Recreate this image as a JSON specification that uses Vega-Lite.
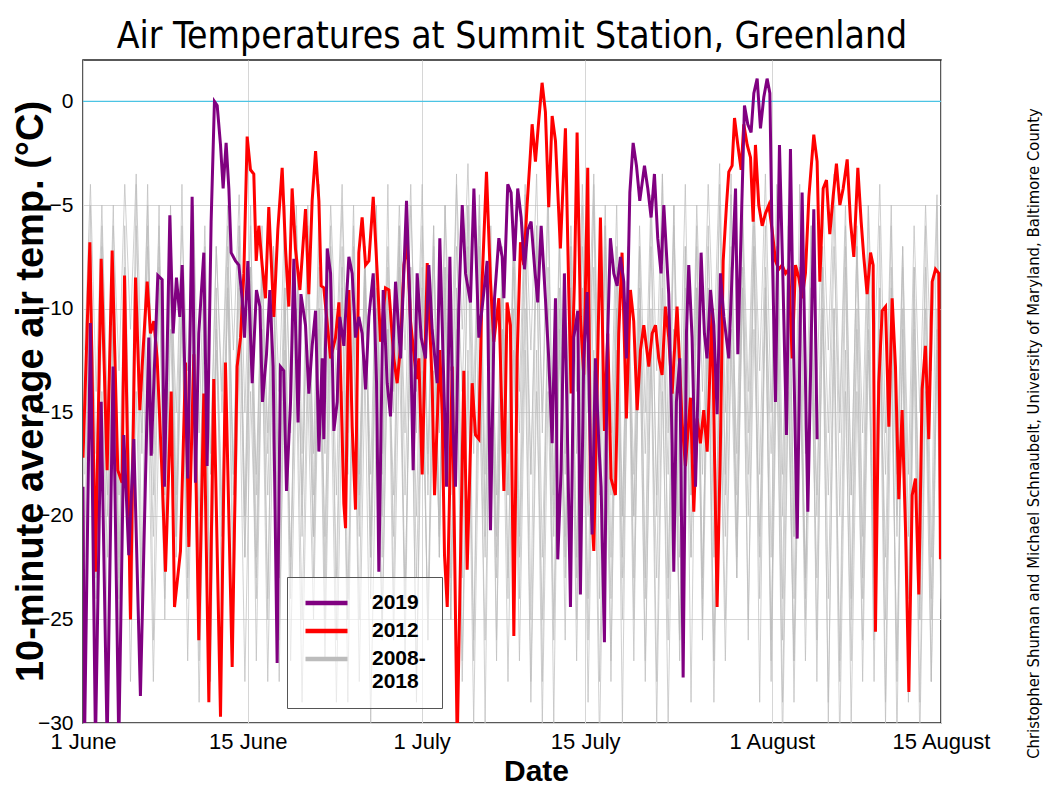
{
"$schema":"https://vega.github.io/schema/vega-lite/v6.json",
"width":858,"height":663,
"autosize":{"type":"none"},
"padding":{"left":83,"top":60,"right":114,"bottom":77},
"background":"white",
"title":{"text":"Air Temperatures at Summit Station, Greenland","font":"DejaVu Sans Condensed, sans-serif","fontSize":37,"fontWeight":"normal","color":"black","anchor":"middle","offset":4},
"datasets":{
"gray":[
{"d":0.15,"a":-18,"b":-25,"c":-22,"e":-15,"f":-28,"h":-12},{"d":0.65,"a":-7,"b":-12,"c":-5,"e":-8,"f":-13,"h":-4},
{"d":1.15,"a":-20,"b":-27,"c":-24,"e":-17,"f":-23,"h":-14},{"d":1.65,"a":-6,"b":-14,"c":-7,"e":-9,"f":-10,"h":-5},
{"d":2.15,"a":-15,"b":-22,"c":-27,"e":-20,"f":-19,"h":-16},{"d":2.65,"a":-5,"b":-10,"c":-9,"e":-11,"f":-8,"h":-6},
{"d":3.15,"a":-22,"b":-19,"c":-25,"e":-23,"f":-24,"h":-13},{"d":3.65,"a":-8,"b":-8,"c":-6,"e":-12,"f":-11,"h":-4},
{"d":4.15,"a":-24,"b":-21,"c":-20,"e":-19,"f":-28,"h":-11},{"d":4.65,"a":-6,"b":-9,"c":-4,"e":-10,"f":-14,"h":-3.5},
{"d":5.15,"a":-17,"b":-26,"c":-23,"e":-16,"f":-25,"h":-14},{"d":5.65,"a":-4,"b":-13,"c":-6,"e":-7,"f":-12,"h":-5},
{"d":6.15,"a":-19,"b":-28,"c":-26,"e":-14,"f":-21,"h":-17},{"d":6.65,"a":-5,"b":-15,"c":-8,"e":-6,"f":-9,"h":-7},
{"d":7.15,"a":-25,"b":-24,"c":-22,"e":-18,"f":-18,"h":-19},{"d":7.65,"a":-9,"b":-11,"c":-5,"e":-8,"f":-7,"h":-8},
{"d":8.15,"a":-21,"b":-20,"c":-19,"e":-21,"f":-22,"h":-15},{"d":8.65,"a":-8,"b":-9,"c":-4,"e":-10,"f":-10,"h":-6},
{"d":9.15,"a":-16,"b":-23,"c":-21,"e":-24,"f":-27,"h":-13},{"d":9.65,"a":-6,"b":-10,"c":-5,"e":-12,"f":-13,"h":-5},
{"d":10.15,"a":-23,"b":-27,"c":-25,"e":-20,"f":-29,"h":-16},{"d":10.65,"a":-9,"b":-13,"c":-7,"e":-9,"f":-15,"h":-6},
{"d":11.15,"a":-26,"b":-25,"c":-28,"e":-17,"f":-24,"h":-18},{"d":11.65,"a":-10,"b":-12,"c":-9,"e":-7,"f":-11,"h":-7},
{"d":12.15,"a":-20,"b":-21,"c":-26,"e":-15,"f":-20,"h":-14},{"d":12.65,"a":-7,"b":-9,"c":-8,"e":-6,"f":-9,"h":-5},
{"d":13.15,"a":-18,"b":-18,"c":-23,"e":-19,"f":-25,"h":-12},{"d":13.65,"a":-6,"b":-7,"c":-6,"e":-9,"f":-12,"h":-4.5},
{"d":14.15,"a":-22,"b":-20,"c":-20,"e":-22,"f":-28,"h":-15},{"d":14.65,"a":-8,"b":-8,"c":-5,"e":-11,"f":-14,"h":-6},
{"d":15.15,"a":-27,"b":-24,"c":-22,"e":-18,"f":-23,"h":-19},{"d":15.65,"a":-11,"b":-11,"c":-6,"e":-8,"f":-10,"h":-8},
{"d":16.15,"a":-24,"b":-28,"c":-25,"e":-16,"f":-19,"h":-17},{"d":16.65,"a":-9,"b":-14,"c":-7,"e":-7,"f":-8,"h":-7},
{"d":17.15,"a":-19,"b":-26,"c":-28,"e":-20,"f":-23,"h":-14},{"d":17.65,"a":-7,"b":-12,"c":-9,"e":-9,"f":-10,"h":-5},
{"d":18.15,"a":-15,"b":-22,"c":-24,"e":-23,"f":-27,"h":-16},{"d":18.65,"a":-5,"b":-10,"c":-6,"e":-11,"f":-13,"h":-6},
{"d":19.15,"a":-17,"b":-19,"c":-21,"e":-25,"f":-29,"h":-20},{"d":19.65,"a":-6,"b":-8,"c":-5,"e":-12,"f":-14,"h":-8},
{"d":20.15,"a":-21,"b":-23,"c":-19,"e":-21,"f":-25,"h":-17},{"d":20.65,"a":-8,"b":-10,"c":-4,"e":-10,"f":-11,"h":-6},
{"d":21.15,"a":-25,"b":-27,"c":-23,"e":-17,"f":-21,"h":-14},{"d":21.65,"a":-10,"b":-12,"c":-6,"e":-7,"f":-9,"h":-5},
{"d":22.15,"a":-23,"b":-29,"c":-26,"e":-14,"f":-19,"h":-12},{"d":22.65,"a":-9,"b":-14,"c":-8,"e":-5,"f":-7,"h":-4},
{"d":23.15,"a":-18,"b":-25,"c":-29,"e":-16,"f":-24,"h":-15},{"d":23.65,"a":-6,"b":-11,"c":-10,"e":-7,"f":-10,"h":-5},
{"d":24.15,"a":-20,"b":-21,"c":-25,"e":-19,"f":-28,"h":-18},{"d":24.65,"a":-7,"b":-9,"c":-7,"e":-8,"f":-13,"h":-7},
{"d":25.15,"a":-24,"b":-18,"c":-22,"e":-22,"f":-30,"h":-21},{"d":25.65,"a":-10,"b":-7,"c":-5,"e":-10,"f":-15,"h":-9},
{"d":26.15,"a":-26,"b":-22,"c":-20,"e":-18,"f":-25,"h":-17},{"d":26.65,"a":-11,"b":-9,"c":-4,"e":-8,"f":-11,"h":-7},
{"d":27.15,"a":-19,"b":-26,"c":-24,"e":-15,"f":-21,"h":-14},{"d":27.65,"a":-7,"b":-12,"c":-6,"e":-6,"f":-8,"h":-5},
{"d":28.15,"a":-16,"b":-24,"c":-27,"e":-19,"f":-24,"h":-12},{"d":28.65,"a":-5,"b":-10,"c":-8,"e":-8,"f":-10,"h":-4},
{"d":29.15,"a":-14,"b":-20,"c":-29,"e":-23,"f":-28,"h":-16},{"d":29.65,"a":-4,"b":-8,"c":-9,"e":-11,"f":-13,"h":-6},
{"d":30.15,"a":-18,"b":-17,"c":-26,"e":-26,"f":-25,"h":-19},{"d":30.65,"a":-6,"b":-6,"c":-7,"e":-13,"f":-11,"h":-7},
{"d":31.15,"a":-22,"b":-21,"c":-22,"e":-21,"f":-20,"h":-16},{"d":31.65,"a":-8,"b":-9,"c":-5,"e":-10,"f":-8,"h":-5},
{"d":32.15,"a":-25,"b":-25,"c":-19,"e":-17,"f":-23,"h":-13},{"d":32.65,"a":-9,"b":-11,"c":-3.5,"e":-7,"f":-10,"h":-4},
{"d":33.15,"a":-20,"b":-28,"c":-23,"e":-14,"f":-27,"h":-11},{"d":33.65,"a":-7,"b":-13,"c":-5,"e":-5,"f":-12,"h":-3},
{"d":34.15,"a":-17,"b":-26,"c":-27,"e":-16,"f":-30,"h":-14},{"d":34.65,"a":-5,"b":-12,"c":-7,"e":-6,"f":-14,"h":-4.5},
{"d":35.15,"a":-21,"b":-22,"c":-30,"e":-20,"f":-26,"h":-18},{"d":35.65,"a":-8,"b":-9,"c":-9,"e":-9,"f":-11,"h":-6},
{"d":36.15,"a":-26,"b":-19,"c":-27,"e":-23,"f":-22,"h":-21},{"d":36.65,"a":-11,"b":-7,"c":-8,"e":-11,"f":-9,"h":-8},
{"d":37.15,"a":-28,"b":-23,"c":-24,"e":-19,"f":-19,"h":-17},{"d":37.65,"a":-12,"b":-10,"c":-6,"e":-8,"f":-7,"h":-6},
{"d":38.15,"a":-22,"b":-27,"c":-21,"e":-16,"f":-24,"h":-14},{"d":38.65,"a":-8,"b":-12,"c":-4,"e":-6,"f":-10,"h":-4.5},
{"d":39.15,"a":-18,"b":-29,"c":-25,"e":-18,"f":-28,"h":-12},{"d":39.65,"a":-6,"b":-14,"c":-6,"e":-7,"f":-12,"h":-3.5},
{"d":40.15,"a":-15,"b":-25,"c":-28,"e":-22,"f":-30,"h":-16},{"d":40.65,"a":-4,"b":-11,"c":-8,"e":-10,"f":-14,"h":-5},
{"d":41.15,"a":-19,"b":-21,"c":-30,"e":-25,"f":-26,"h":-20},{"d":41.65,"a":-6,"b":-9,"c":-10,"e":-12,"f":-11,"h":-7},
{"d":42.15,"a":-23,"b":-18,"c":-26,"e":-21,"f":-22,"h":-17},{"d":42.65,"a":-9,"b":-7,"c":-7,"e":-9,"f":-9,"h":-6},
{"d":43.15,"a":-27,"b":-22,"c":-23,"e":-17,"f":-25,"h":-14},{"d":43.65,"a":-11,"b":-9,"c":-5,"e":-7,"f":-10,"h":-4},
{"d":44.15,"a":-24,"b":-26,"c":-20,"e":-15,"f":-29,"h":-12},{"d":44.65,"a":-8,"b":-12,"c":-4,"e":-5,"f":-13,"h":-3.5},
{"d":45.15,"a":-19,"b":-28,"c":-24,"e":-18,"f":-31,"h":-16},{"d":45.65,"a":-6,"b":-13,"c":-6,"e":-7,"f":-15,"h":-5},
{"d":46.15,"a":-16,"b":-24,"c":-28,"e":-22,"f":-27,"h":-19},{"d":46.65,"a":-5,"b":-10,"c":-8,"e":-10,"f":-12,"h":-7},
{"d":47.15,"a":-20,"b":-20,"c":-30,"e":-25,"f":-23,"h":-22},{"d":47.65,"a":-7,"b":-8,"c":-9,"e":-12,"f":-9,"h":-9},
{"d":48.15,"a":-25,"b":-23,"c":-27,"e":-20,"f":-20,"h":-18},{"d":48.65,"a":-10,"b":-10,"c":-7,"e":-9,"f":-7,"h":-6},
{"d":49.15,"a":-28,"b":-27,"c":-23,"e":-17,"f":-24,"h":-15},{"d":49.65,"a":-12,"b":-12,"c":-5,"e":-7,"f":-10,"h":-4.5},
{"d":50.15,"a":-23,"b":-30,"c":-20,"e":-19,"f":-28,"h":-13},{"d":50.65,"a":-9,"b":-14,"c":-3.5,"e":-8,"f":-12,"h":-3.5},
{"d":51.15,"a":-18,"b":-26,"c":-24,"e":-23,"f":-30,"h":-16},{"d":51.65,"a":-6,"b":-11,"c":-5,"e":-11,"f":-14,"h":-5},
{"d":52.15,"a":-15,"b":-22,"c":-27,"e":-26,"f":-26,"h":-20},{"d":52.65,"a":-4,"b":-9,"c":-7,"e":-12,"f":-11,"h":-7},
{"d":53.15,"a":-19,"b":-19,"c":-29,"e":-22,"f":-22,"h":-17},{"d":53.65,"a":-6,"b":-7,"c":-9,"e":-9,"f":-9,"h":-5},
{"d":54.15,"a":-24,"b":-23,"c":-25,"e":-18,"f":-26,"h":-14},{"d":54.65,"a":-9,"b":-10,"c":-6,"e":-7,"f":-11,"h":-4},
{"d":55.15,"a":-27,"b":-27,"c":-22,"e":-15,"f":-29,"h":-12},{"d":55.65,"a":-11,"b":-12,"c":-4,"e":-5,"f":-13,"h":-3},
{"d":56.15,"a":-21,"b":-25,"c":-19,"e":-18,"f":-27,"h":-15},{"d":56.65,"a":-8,"b":-11,"c":-3.5,"e":-7,"f":-12,"h":-4.5},
{"d":57.15,"a":-17,"b":-21,"c":-23,"e":-22,"f":-23,"h":-19},{"d":57.65,"a":-5,"b":-8,"c":-5,"e":-9,"f":-9,"h":-6},
{"d":58.15,"a":-14,"b":-18,"c":-26,"e":-25,"f":-20,"h":-16},{"d":58.65,"a":-4,"b":-7,"c":-6,"e":-11,"f":-7,"h":-5},
{"d":59.15,"a":-18,"b":-22,"c":-29,"e":-21,"f":-24,"h":-13},{"d":59.65,"a":-6,"b":-9,"c":-8,"e":-9,"f":-9,"h":-3.5},
{"d":60.15,"a":-22,"b":-26,"c":-27,"e":-17,"f":-28,"h":-15},{"d":60.65,"a":-8,"b":-11,"c":-7,"e":-7,"f":-12,"h":-4},
{"d":61.15,"a":-26,"b":-29,"c":-24,"e":-20,"f":-31,"h":-18},{"d":61.65,"a":-10,"b":-13,"c":-5,"e":-8,"f":-14,"h":-6},
{"d":62.15,"a":-29,"b":-27,"c":-21,"e":-24,"f":-27,"h":-21},{"d":62.65,"a":-13,"b":-12,"c":-4,"e":-10,"f":-11,"h":-8},
{"d":63.15,"a":-24,"b":-23,"c":-25,"e":-27,"f":-23,"h":-17},{"d":63.65,"a":-9,"b":-10,"c":-6,"e":-12,"f":-9,"h":-6},
{"d":64.15,"a":-19,"b":-20,"c":-28,"e":-23,"f":-26,"h":-14},{"d":64.65,"a":-7,"b":-8,"c":-8,"e":-10,"f":-10,"h":-4.5},
{"d":65.15,"a":-16,"b":-24,"c":-30,"e":-19,"f":-29,"h":-12},{"d":65.65,"a":-5,"b":-10,"c":-10,"e":-7,"f":-12,"h":-3.5},
{"d":66.15,"a":-20,"b":-28,"c":-27,"e":-16,"f":-31,"h":-15},{"d":66.65,"a":-7,"b":-12,"c":-8,"e":-6,"f":-14,"h":-5},
{"d":67.15,"a":-25,"b":-30,"c":-24,"e":-19,"f":-27,"h":-19},{"d":67.65,"a":-10,"b":-14,"c":-6,"e":-7,"f":-11,"h":-7},
{"d":68.15,"a":-28,"b":-26,"c":-21,"e":-23,"f":-24,"h":-16},{"d":68.65,"a":-12,"b":-11,"c":-5,"e":-9,"f":-9,"h":-5},
{"d":69.15,"a":-23,"b":-22,"c":-25,"e":-26,"f":-28,"h":-13},{"d":69.65,"a":-9,"b":-9,"c":-6,"e":-11,"f":-11,"h":-4},
{"d":70.15,"a":-18,"b":-25,"c":-29,"e":-22,"f":-30,"h":-16},{"d":70.65,"a":-6,"b":-10,"c":-8,"e":-9,"f":-13,"h":-5},
{"d":71.15,"a":-21,"b":-28,"c":-31,"e":-18,"f":-27,"h":-20},{"d":71.65,"a":-8,"b":-12,"c":-10,"e":-7,"f":-11,"h":-7},
{"d":72.15,"a":-26,"b":-24,"c":-28,"e":-21,"f":-29,"h":-18},{"d":72.65,"a":-11,"b":-10,"c":-8,"e":-8,"f":-12,"h":-6},
{"d":73.15,"a":-29,"b":-21,"c":-25,"e":-25,"f":-31,"h":-15},{"d":73.65,"a":-13,"b":-8,"c":-6,"e":-10,"f":-14,"h":-5},
{"d":74.15,"a":-24,"b":-25,"c":-22,"e":-28,"f":-28,"h":-13},{"d":74.65,"a":-10,"b":-11,"c":-5,"e":-12,"f":-12,"h":-4.5},
{"d":75,"a":-20,"b":-22,"c":-24,"e":-20,"f":-25,"h":-16}
],
"p19":[
{"d":0,"t":-18.6},{"d":0.13,"t":-31},{"d":0.65,"t":-10.7},{"d":1.09,"t":-31},{"d":1.59,"t":-14.5},{"d":2.11,"t":-31},{"d":2.63,"t":-12.8},{"d":3.13,"t":-31},{"d":3.57,"t":-16.1},{"d":4.0,"t":-21.9},{"d":4.44,"t":-16.3},{"d":5.02,"t":-28.7},{"d":5.75,"t":-11.4},{"d":5.96,"t":-17.1},{"d":6.54,"t":-8.4},{"d":6.92,"t":-8.6},{"d":7.12,"t":-18.6},{"d":7.59,"t":-5.5},{"d":7.88,"t":-11.2},{"d":8.17,"t":-8.5},{"d":8.46,"t":-10.4},{"d":8.67,"t":-7.9},{"d":8.87,"t":-12.4},{"d":9.16,"t":-18.2},{"d":9.54,"t":-4.6},{"d":9.83,"t":-18.4},{"d":10.12,"t":-11.2},{"d":10.56,"t":-7.3},{"d":10.85,"t":-17.6},{"d":11.2,"t":-5.8},{"d":11.49,"t":0},{"d":11.73,"t":-0.2},{"d":12.02,"t":-2.1},{"d":12.25,"t":-4.2},{"d":12.51,"t":-2.0},{"d":12.75,"t":-4.2},{"d":12.95,"t":-7.3},{"d":13.33,"t":-7.7},{"d":13.62,"t":-7.9},{"d":13.91,"t":-9.5},{"d":14.12,"t":-11.4},{"d":14.41,"t":-7.7},{"d":14.79,"t":-13.6},{"d":15.16,"t":-9.1},{"d":15.46,"t":-9.9},{"d":15.69,"t":-14.5},{"d":16.04,"t":-12.2},{"d":16.33,"t":-9.1},{"d":16.62,"t":-12.8},{"d":16.97,"t":-27.1},{"d":17.26,"t":-12.8},{"d":17.55,"t":-13.0},{"d":17.79,"t":-18.8},{"d":18.14,"t":-14.5},{"d":18.43,"t":-7.6},{"d":18.8,"t":-15.5},{"d":19.05,"t":-9.3},{"d":19.45,"t":-10.8},{"d":19.74,"t":-14.1},{"d":20.03,"t":-11.8},{"d":20.33,"t":-10.1},{"d":20.62,"t":-16.9},{"d":20.91,"t":-12.4},{"d":21.05,"t":-16.3},{"d":21.35,"t":-7.1},{"d":21.64,"t":-8.3},{"d":21.93,"t":-15.9},{"d":22.22,"t":-14.5},{"d":22.45,"t":-10.4},{"d":22.8,"t":-11.8},{"d":23.24,"t":-7.5},{"d":23.53,"t":-8.3},{"d":23.82,"t":-11.4},{"d":24.11,"t":-10.4},{"d":24.4,"t":-11.2},{"d":24.7,"t":-13.9},{"d":24.99,"t":-10.4},{"d":25.37,"t":-8.3},{"d":25.66,"t":-13.6},{"d":25.86,"t":-22.7},{"d":26.24,"t":-9.1},{"d":26.59,"t":-13.6},{"d":26.88,"t":-15.2},{"d":27.32,"t":-8.7},{"d":27.76,"t":-12.4},{"d":28.28,"t":-4.8},{"d":28.57,"t":-9.7},{"d":28.86,"t":-17.8},{"d":29.21,"t":-8.3},{"d":29.56,"t":-11.4},{"d":29.94,"t":-12.4},{"d":30.23,"t":-7.9},{"d":30.52,"t":-11.0},{"d":30.96,"t":-13.6},{"d":31.19,"t":-6.6},{"d":31.54,"t":-13.6},{"d":31.78,"t":-18.6},{"d":32.07,"t":-7.5},{"d":32.36,"t":-15.9},{"d":32.56,"t":-18.6},{"d":32.85,"t":-9.9},{"d":33.15,"t":-5.0},{"d":33.44,"t":-8.3},{"d":33.87,"t":-9.7},{"d":34.17,"t":-4.2},{"d":34.6,"t":-11.4},{"d":34.98,"t":-9.5},{"d":35.33,"t":-7.7},{"d":35.62,"t":-20.7},{"d":35.97,"t":-9.5},{"d":36.35,"t":-6.6},{"d":36.64,"t":-7.5},{"d":36.79,"t":-9.5},{"d":37.13,"t":-4.0},{"d":37.42,"t":-4.4},{"d":37.71,"t":-7.7},{"d":38.0,"t":-4.2},{"d":38.3,"t":-5.6},{"d":38.59,"t":-8.1},{"d":38.88,"t":-6.2},{"d":39.17,"t":-5.8},{"d":39.46,"t":-7.9},{"d":39.75,"t":-9.7},{"d":40.05,"t":-6.0},{"d":40.42,"t":-9.5},{"d":40.71,"t":-12.4},{"d":41.01,"t":-16.5},{"d":41.3,"t":-9.5},{"d":41.5,"t":-22.1},{"d":41.79,"t":-17.8},{"d":42.08,"t":-8.3},{"d":42.32,"t":-15.3},{"d":42.61,"t":-24.4},{"d":42.9,"t":-11.4},{"d":43.25,"t":-10.1},{"d":43.48,"t":-23.8},{"d":43.77,"t":-12.4},{"d":44.07,"t":-9.2},{"d":44.3,"t":-15.5},{"d":44.5,"t":-20.9},{"d":44.79,"t":-12.4},{"d":45.09,"t":-16.5},{"d":45.29,"t":-18.6},{"d":45.58,"t":-26.1},{"d":45.81,"t":-12.4},{"d":46.1,"t":-6.6},{"d":46.4,"t":-8.3},{"d":46.69,"t":-8.9},{"d":46.98,"t":-7.5},{"d":47.27,"t":-8.7},{"d":47.5,"t":-12.4},{"d":47.8,"t":-4.4},{"d":48.09,"t":-2.0},{"d":48.38,"t":-3.1},{"d":48.67,"t":-4.8},{"d":49.08,"t":-3.1},{"d":49.37,"t":-4.2},{"d":49.66,"t":-5.6},{"d":49.95,"t":-3.5},{"d":50.24,"t":-6.6},{"d":50.53,"t":-8.3},{"d":50.77,"t":-5.0},{"d":51.0,"t":-7.3},{"d":51.2,"t":-9.3},{"d":51.5,"t":-16.5},{"d":51.64,"t":-22.7},{"d":51.87,"t":-14.5},{"d":52.17,"t":-12.4},{"d":52.46,"t":-27.8},{"d":52.75,"t":-11.2},{"d":52.95,"t":-7.9},{"d":53.24,"t":-11.4},{"d":53.54,"t":-18.6},{"d":53.83,"t":-12.4},{"d":54.03,"t":-7.3},{"d":54.32,"t":-11.2},{"d":54.55,"t":-12.4},{"d":54.85,"t":-9.1},{"d":55.14,"t":-10.8},{"d":55.43,"t":-15.1},{"d":55.72,"t":-8.3},{"d":56.02,"t":-10.4},{"d":56.45,"t":-12.4},{"d":56.74,"t":-8.3},{"d":57.04,"t":-4.2},{"d":57.24,"t":-12.2},{"d":57.53,"t":-6.2},{"d":57.82,"t":-0.2},{"d":58.11,"t":-1.1},{"d":58.4,"t":-1.5},{"d":58.64,"t":0.4},{"d":58.93,"t":1.1},{"d":59.22,"t":-1.3},{"d":59.51,"t":0.2},{"d":59.8,"t":1.1},{"d":60.04,"t":0.4},{"d":60.24,"t":-6.8},{"d":60.53,"t":-14.5},{"d":60.88,"t":-2.1},{"d":61.17,"t":-8.3},{"d":61.49,"t":-16.1},{"d":61.84,"t":-2.3},{"d":62.13,"t":-12.4},{"d":62.43,"t":-21.1},{"d":62.86,"t":-4.4},{"d":63.15,"t":-13.4},{"d":63.36,"t":-19.8},{"d":63.88,"t":-5.2},{"d":64.17,"t":-16.3}
],
"r12":[
{"d":0,"t":-17.2},{"d":0.6,"t":-6.8},{"d":1.09,"t":-22.7},{"d":1.59,"t":-7.6},{"d":2.11,"t":-17.8},{"d":2.55,"t":-7.2},{"d":3.04,"t":-17.8},{"d":3.42,"t":-18.4},{"d":3.63,"t":-8.4},{"d":4.15,"t":-25.0},{"d":4.59,"t":-8.5},{"d":4.97,"t":-14.9},{"d":5.17,"t":-12.8},{"d":5.61,"t":-8.7},{"d":5.9,"t":-11.2},{"d":6.19,"t":-10.6},{"d":6.48,"t":-12.4},{"d":6.92,"t":-18.1},{"d":7.21,"t":-22.7},{"d":7.71,"t":-14.0},{"d":8.0,"t":-24.4},{"d":8.52,"t":-21.7},{"d":8.96,"t":-12.6},{"d":9.25,"t":-21.5},{"d":9.69,"t":-12.2},{"d":10.12,"t":-26.0},{"d":10.56,"t":-14.1},{"d":11.0,"t":-29.0},{"d":11.43,"t":-13.4},{"d":12.02,"t":-29.7},{"d":12.45,"t":-12.6},{"d":13.04,"t":-27.3},{"d":13.47,"t":-12.8},{"d":13.77,"t":-11.4},{"d":14.06,"t":-8.3},{"d":14.35,"t":-1.7},{"d":14.64,"t":-3.3},{"d":14.93,"t":-3.5},{"d":15.14,"t":-7.7},{"d":15.37,"t":-6.0},{"d":15.66,"t":-7.9},{"d":15.95,"t":-9.5},{"d":16.24,"t":-5.1},{"d":16.68,"t":-10.4},{"d":17.03,"t":-6.2},{"d":17.41,"t":-3.2},{"d":17.7,"t":-7.1},{"d":17.99,"t":-9.9},{"d":18.28,"t":-4.2},{"d":18.57,"t":-7.1},{"d":18.96,"t":-9.1},{"d":19.45,"t":-5.2},{"d":19.74,"t":-9.3},{"d":20.03,"t":-4.8},{"d":20.33,"t":-2.4},{"d":20.62,"t":-4.8},{"d":20.82,"t":-8.9},{"d":21.05,"t":-9.0},{"d":21.64,"t":-12.4},{"d":22.07,"t":-11.4},{"d":22.37,"t":-9.7},{"d":22.8,"t":-19.4},{"d":22.95,"t":-20.6},{"d":23.24,"t":-9.1},{"d":23.53,"t":-15.7},{"d":23.82,"t":-19.7},{"d":24.11,"t":-7.3},{"d":24.4,"t":-5.6},{"d":24.7,"t":-7.9},{"d":24.99,"t":-7.7},{"d":25.37,"t":-4.6},{"d":25.72,"t":-8.3},{"d":26.01,"t":-11.6},{"d":26.44,"t":-9.0},{"d":26.74,"t":-9.1},{"d":27.17,"t":-12.4},{"d":27.46,"t":-13.6},{"d":27.76,"t":-11.8},{"d":28.05,"t":-7.9},{"d":28.34,"t":-6.8},{"d":28.63,"t":-10.6},{"d":29.15,"t":-13.4},{"d":29.36,"t":-12.4},{"d":29.65,"t":-18.0},{"d":30.09,"t":-7.8},{"d":30.52,"t":-13.6},{"d":30.73,"t":-19.0},{"d":31.19,"t":-12.0},{"d":31.4,"t":-15.1},{"d":31.6,"t":-21.9},{"d":31.84,"t":-24.4},{"d":32.27,"t":-12.8},{"d":32.71,"t":-31},{"d":33.29,"t":-13.0},{"d":33.58,"t":-22.6},{"d":34.02,"t":-13.6},{"d":34.31,"t":-16.1},{"d":34.6,"t":-16.3},{"d":34.89,"t":-8.7},{"d":35.27,"t":-3.4},{"d":35.62,"t":-8.7},{"d":35.91,"t":-11.6},{"d":36.35,"t":-9.5},{"d":36.79,"t":-18.8},{"d":37.07,"t":-9.7},{"d":37.36,"t":-10.8},{"d":37.66,"t":-25.8},{"d":37.95,"t":-12.4},{"d":38.24,"t":-6.8},{"d":38.53,"t":-7.9},{"d":38.82,"t":-5.0},{"d":39.11,"t":-2.5},{"d":39.26,"t":-1.1},{"d":39.55,"t":-2.9},{"d":39.84,"t":-0.9},{"d":40.13,"t":0.9},{"d":40.42,"t":-0.5},{"d":40.71,"t":-5.1},{"d":41.01,"t":-0.7},{"d":41.3,"t":-1.9},{"d":41.73,"t":-7.1},{"d":42.17,"t":-1.3},{"d":42.46,"t":-9.1},{"d":42.67,"t":-14.1},{"d":42.96,"t":-8.7},{"d":43.19,"t":-1.5},{"d":43.48,"t":-10.4},{"d":43.77,"t":-13.2},{"d":44.12,"t":-3.2},{"d":44.36,"t":-18.6},{"d":44.65,"t":-21.7},{"d":44.94,"t":-13.9},{"d":45.23,"t":-5.6},{"d":45.58,"t":-15.9},{"d":45.87,"t":-11.2},{"d":46.16,"t":-18.2},{"d":46.54,"t":-19.0},{"d":46.83,"t":-11.2},{"d":47.12,"t":-7.3},{"d":47.5,"t":-15.3},{"d":47.85,"t":-9.1},{"d":48.14,"t":-10.6},{"d":48.44,"t":-14.9},{"d":48.73,"t":-12.0},{"d":49.02,"t":-10.8},{"d":49.46,"t":-12.8},{"d":49.75,"t":-11.2},{"d":50.04,"t":-10.8},{"d":50.33,"t":-12.4},{"d":50.62,"t":-13.2},{"d":50.91,"t":-9.9},{"d":51.2,"t":-11.4},{"d":51.5,"t":-14.1},{"d":51.64,"t":-12.6},{"d":51.93,"t":-9.9},{"d":52.37,"t":-15.5},{"d":52.66,"t":-17.6},{"d":53.1,"t":-14.3},{"d":53.39,"t":-19.8},{"d":53.68,"t":-15.3},{"d":53.97,"t":-16.5},{"d":54.26,"t":-14.9},{"d":54.56,"t":-16.9},{"d":54.85,"t":-12.2},{"d":55.0,"t":-10.0},{"d":55.2,"t":-17.0},{"d":55.43,"t":-24.4},{"d":55.72,"t":-16.5},{"d":55.96,"t":-7.7},{"d":56.25,"t":-5.0},{"d":56.45,"t":-3.4},{"d":56.74,"t":-3.1},{"d":56.95,"t":-0.8},{"d":57.24,"t":-2.1},{"d":57.53,"t":-3.3},{"d":57.76,"t":-1.1},{"d":58.06,"t":-2.1},{"d":58.35,"t":-2.7},{"d":58.58,"t":-5.8},{"d":58.78,"t":-2.1},{"d":59.07,"t":-5.0},{"d":59.37,"t":-6.0},{"d":59.66,"t":-5.4},{"d":59.95,"t":-5.0},{"d":60.24,"t":-6.2},{"d":60.53,"t":-7.7},{"d":60.82,"t":-8.1},{"d":61.11,"t":-7.9},{"d":61.41,"t":-8.3},{"d":61.7,"t":-8.1},{"d":61.99,"t":-12.4},{"d":62.28,"t":-7.9},{"d":62.57,"t":-8.5},{"d":62.86,"t":-9.5},{"d":63.15,"t":-8.3},{"d":63.45,"t":-4.6},{"d":63.88,"t":-1.6},{"d":64.17,"t":-2.9},{"d":64.41,"t":-8.7},{"d":64.7,"t":-4.2},{"d":64.99,"t":-3.8},{"d":65.28,"t":-6.4},{"d":65.57,"t":-4.6},{"d":65.86,"t":-3.0},{"d":66.16,"t":-5.0},{"d":66.45,"t":-4.2},{"d":66.8,"t":-2.8},{"d":67.09,"t":-5.8},{"d":67.38,"t":-7.5},{"d":67.73,"t":-3.2},{"d":68.02,"t":-5.8},{"d":68.25,"t":-7.5},{"d":68.54,"t":-9.3},{"d":68.84,"t":-7.3},{"d":69.07,"t":-7.9},{"d":69.27,"t":-25.6},{"d":69.56,"t":-13.6},{"d":69.86,"t":-10.1},{"d":70.15,"t":-9.9},{"d":70.44,"t":-15.7},{"d":70.73,"t":-9.5},{"d":71.02,"t":-12.8},{"d":71.31,"t":-19.2},{"d":71.6,"t":-14.9},{"d":71.9,"t":-20.7},{"d":72.19,"t":-28.5},{"d":72.48,"t":-19.0},{"d":72.77,"t":-18.2},{"d":73.06,"t":-23.8},{"d":73.35,"t":-13.9},{"d":73.64,"t":-11.8},{"d":73.93,"t":-16.3},{"d":74.23,"t":-8.7},{"d":74.52,"t":-8.1},{"d":74.81,"t":-8.3},{"d":74.95,"t":-22.1}
]
},
"layer":[
{"data":{"name":"gray"},
 "transform":[{"fold":["a","b","c","e","f","h"],"as":["k","t"]}],
 "mark":{"type":"line","strokeWidth":0.7,"clip":true},
 "encoding":{
  "x":{"field":"d","type":"quantitative","scale":{"domain":[0,75],"nice":false,"zero":false},
   "axis":{"values":[0,14.4,29.6,43.9,60.2,75],"labelExpr":"datum.value < 5 ? '1 June' : datum.value < 20 ? '15 June' : datum.value < 35 ? '1 July' : datum.value < 50 ? '15 July' : datum.value < 65 ? '1 August' : '15 August'","title":"Date","grid":true,"labelFontSize":22,"labelPadding":8,"labelFlush":false,"labelOverlap":false,"titleFontSize":30,"titleFontWeight":"bold","titleX":453,"titleY":48,"titleBaseline":"middle"}},
  "y":{"field":"t","type":"quantitative","scale":{"domain":[-30,2],"nice":false,"zero":false},
   "axis":{"orient":"left","values":[-30,-25,-20,-15,-10,-5,0],"grid":true,"title":"10-minute average air temp. (°C)","titleFontSize":38,"titleFontWeight":"bold","titleAngle":270,"titleX":-52,"titleY":331,"titleBaseline":"middle","labelFontSize":21,"labelPadding":10}},
  "color":{"datum":"2008-2018","type":"nominal","scale":{"domain":["2019","2012","2008-2018"],"range":["#800080","#ff0000","#bcbcbc"]},
   "legend":{"title":null,"orient":"none","legendX":204,"legendY":517,"direction":"vertical","symbolType":"stroke","symbolSize":1764,"symbolStrokeWidth":4.5,"clipHeight":20,"rowPadding":7,"labelFontSize":21,"labelFontWeight":"bold","labelFont":"Liberation Sans","labelColor":"black","labelOffset":22,"padding":16,"strokeColor":"#555","fillColor":"rgba(255,255,255,0.6)","labelExpr":"datum.label == '2008-2018' ? ['2008-','2018'] : datum.label"}},
  "detail":{"field":"k","type":"nominal"}
 }},
{"data":{"values":[{"t":0}]},
 "mark":{"type":"rule","color":"#4cc4e4","strokeWidth":1.2},
 "encoding":{"y":{"field":"t","type":"quantitative",
   "axis":{"orient":"right","labels":false,"ticks":false,"grid":false,"domain":false,"title":"Christopher Shuman and Michael Schnaubelt, University of Maryland, Baltimore County","titleFont":"DejaVu Sans Condensed, sans-serif","titleFontSize":16.5,"titleFontWeight":"normal","titleAngle":270,"titleX":92,"titleY":373,"titleBaseline":"middle"}}}},
{"data":{"name":"r12"},
 "mark":{"type":"line","strokeWidth":3,"clip":true},
 "encoding":{
  "x":{"field":"d","type":"quantitative","title":"Date"},
  "y":{"field":"t","type":"quantitative","axis":null},
  "color":{"datum":"2012","type":"nominal"}
 }},
{"data":{"name":"p19"},
 "mark":{"type":"line","strokeWidth":3,"clip":true},
 "encoding":{
  "x":{"field":"d","type":"quantitative","title":"Date"},
  "y":{"field":"t","type":"quantitative","axis":null},
  "color":{"datum":"2019","type":"nominal"}
 }}
],
"resolve":{"axis":{"y":"independent"}},
"config":{
 "font":"Liberation Sans",
 "view":{"stroke":"#222","strokeWidth":1.5},
 "axis":{"domain":false,"ticks":false,"gridColor":"#d6d6d6","gridWidth":1,"labelColor":"black","titleColor":"black","labelFont":"Liberation Sans","titleFont":"Liberation Sans"}
}
}
